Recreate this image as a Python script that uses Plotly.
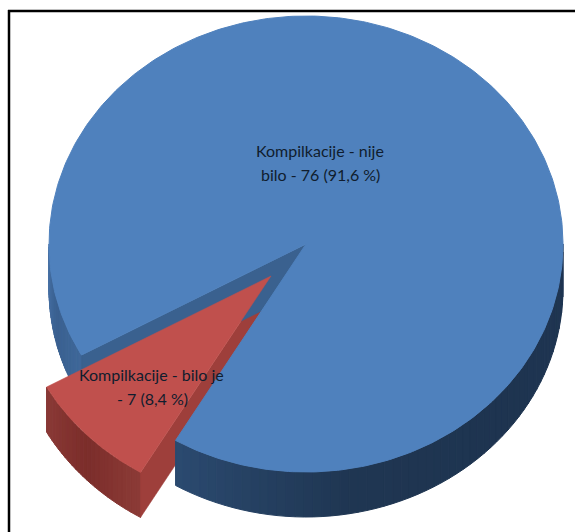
import math
import plotly.graph_objects as go

categories = ["Kompilkacije - nije bilo", "Kompilkacije - bilo je"]
values = [76, 7]
label_lines = [["Kompilkacije - nije", "bilo - 76 (91,6 %)"], ["Kompilkacije - bilo je", "- 7 (8,4 %)"]]
face_colors = ["#4f81bd", "#c0504d"]

W, H = 575, 532
CX, CY, RX, RY, DEPTH = 306, 244, 257, 228, 45
EXPLODE = (-35, 32)
FIRST_EDGE = 30.5  # degrees from straight down towards the left, where the small slice begins
LABEL_POS = [[(320, 150), (320, 174)], [(151, 374), (152, 398)]]

share = values[1] / sum(values) * 360
a0, a1 = FIRST_EDGE, FIRST_EDGE + share


def pt(ang, ox=0, oy=0):
    r = math.radians(ang)
    return CX + ox - RX * math.sin(r), CY + oy + RY * math.cos(r)


def arc(start, end, ox=0, oy=0, n=180):
    return [pt(start + (end - start) * i / n, ox, oy) for i in range(n + 1)]


def mix(c1, c2, t):
    a = [int(c1[i:i + 2], 16) for i in (1, 3, 5)]
    b = [int(c2[i:i + 2], 16) for i in (1, 3, 5)]
    return "#%02x%02x%02x" % tuple(round(a[i] + (b[i] - a[i]) * t) for i in range(3))


fig = go.Figure()


def poly(points, color, width=0.5):
    xs = [p[0] for p in points] + [points[0][0]]
    ys = [p[1] for p in points] + [points[0][1]]
    fig.add_trace(go.Scatter(x=xs, y=ys, mode="lines", fill="toself", fillcolor=color,
                             line=dict(color=color, width=width), hoverinfo="skip", showlegend=False))


def wall(start, end, stops, ox=0, oy=0, steps=40):
    for i in range(steps):
        s = start + (end - start) * i / steps
        e = start + (end - start) * (i + 1) / steps
        top = arc(s, e, ox, oy, 4)
        bottom = arc(e, s, ox, oy + DEPTH, 4)
        t = (i + 0.5) / steps * (len(stops) - 1)
        k = min(int(t), len(stops) - 2)
        poly(top + bottom, mix(stops[k], stops[k + 1], t - k), 1)


ox, oy = EXPLODE
r_apex = (CX + ox, CY + oy)

# walls of the small slice sit behind the big slice, as in the reference
wall(a0, a1, ["#8c3b37", "#7b2d2a", "#8a3936"], ox, oy, steps=24)
poly([r_apex, (r_apex[0], r_apex[1] + DEPTH), pt(a0, ox, oy + DEPTH), pt(a0, ox, oy)], "#9e3f3b")

# blue slice: outer wall on both sides of the gap, then the cut wall, then the face
wall(a1, 90, ["#3f6899", "#3a6090", "#466fa3"])
wall(a0, -90, ["#2b4a70", "#1f3652", "#1e3450", "#1f3552"], steps=60)
apex = (CX, CY)
poly([apex, (CX, CY + DEPTH), pt(a1, 0, DEPTH), pt(a1)], "#3a618f")
poly([apex] + arc(a1, a0 + 360, n=360), face_colors[0], 1)

# face of the small slice, pulled out of the pie
poly([r_apex] + arc(a0, a1, ox, oy, 60), face_colors[1])

for lines, positions in zip(label_lines, LABEL_POS):
    for text, (x, y) in zip(lines, positions):
        fig.add_annotation(x=x, y=y, text=text, showarrow=False, xanchor="center", yanchor="middle",
                           font=dict(family="Lato", size=16, color="#101d2e"))

fig.update_layout(
    width=W, height=H, margin=dict(l=0, r=0, t=0, b=0),
    paper_bgcolor="white", plot_bgcolor="white", showlegend=False,
    xaxis=dict(range=[0, W], visible=False, fixedrange=True),
    yaxis=dict(range=[H, 0], visible=False, fixedrange=True),
    shapes=[
        dict(type="line", x0=9, x1=9, y0=10, y1=H, line=dict(color="black", width=2.5)),
        dict(type="line", x0=8, x1=W, y0=11, y1=11, line=dict(color="black", width=2.5)),
    ],
)
fig.write_html("out.html", config={"displayModeBar": False},
               post_script="document.body.style.margin='0';document.documentElement.style.overflow='hidden';")
